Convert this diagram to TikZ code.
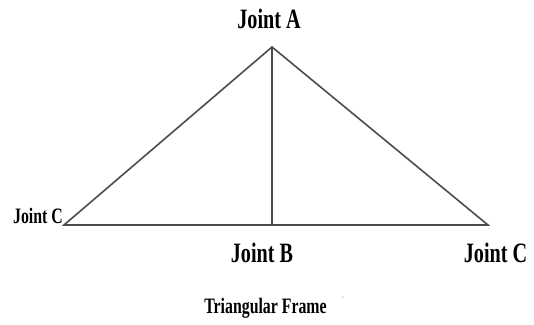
\documentclass[tikz,border=0pt]{standalone}
\usepackage{fontspec}
\setmainfont{Liberation Serif}[FakeStretch=0.72]
\begin{document}
\begin{tikzpicture}[x=1pt,y=-1pt,
  member/.style={draw=black!70,line width=1.6pt},
  lbl/.style={anchor=base,inner sep=0pt,font=\bfseries\fontsize{28}{30}\selectfont},
  lbls/.style={anchor=base,inner sep=0pt,font=\bfseries\fontsize{22}{24}\selectfont}]
\useasboundingbox (0,0) rectangle (534,324);
\coordinate (A) at (272,47);
\coordinate (Cl) at (64,225);
\coordinate (Cr) at (488,225);
\coordinate (B) at (272,225);
\draw[member] (Cl) -- (A) -- (Cr) -- cycle;
\draw[member] (A) -- (B);
\node[lbl] (la) at (269,28) {Joint A};
\node[lbls] (lcl) at (38,223) {Joint C};
\node[lbl] (lb) at (262,262) {Joint B};
\node[lbl] (lcr) at (495.5,262) {Joint C};
\node[lbls] (lt) at (265.5,313) {Triangular Frame};
\fill[black!50] (343,297) circle (0.6);
\end{tikzpicture}
\end{document}
